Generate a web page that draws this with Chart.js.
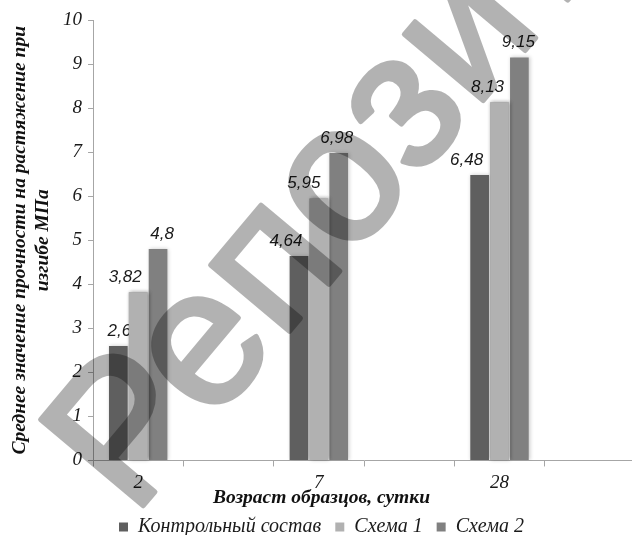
<!DOCTYPE html>
<html>
<head>
<meta charset="utf-8">
<script src="https://cdn.jsdelivr.net/npm/chart.js@4.4.0/dist/chart.umd.min.js"></script>
<style>
  html, body { margin: 0; padding: 0; background: #fff; overflow: hidden; width: 632px; height: 535px; }
  #wrap { position: relative; width: 632px; height: 535px; overflow: hidden; }
  #wrap canvas { position: absolute; left: 0; top: 0; }
</style>
</head>
<body>
<div id="wrap"><canvas id="chart" width="684" height="535"></canvas></div>
<script>
// Sample age (days); blank slots keep the wide spacing between groups
const ages = ['2', '', '7', '', '28', ''];
const seriesNames = ['Контрольный состав', 'Схема 1', 'Схема 2'];
const control = [2.6, null, 4.64, null, 6.48, null];
const scheme1 = [3.82, null, 5.95, null, 8.13, null];
const scheme2 = [4.8, null, 6.98, null, 9.15, null];
const yTickLabels = ['0', '1', '2', '3', '4', '5', '6', '7', '8', '9', '10'];
const seriesColors = ['#5f5f5f', '#b1b1b1', '#808080'];
const yTitle = ['Среднее значение прочности на растяжение при', 'изгибе МПа'];
const xTitle = 'Возраст образцов, сутки';
const stamp = 'Репозиторий';
// sideways nudge (px) of each value label, per series and category
const labelNudge = [
  [1, 0, -13, 0, -13, 0],
  [-13, 0, -15, 0, -12, 0],
  [4, 0, -2, 0, -1, 0]
];

const SERIF = "'Liberation Serif', 'Times New Roman', serif";
const SANS = "'Liberation Sans', Arial, sans-serif";

function withBarShadow(ctx) {
  ctx.shadowColor = 'rgba(0,0,0,0.22)';
  ctx.shadowBlur = 4;
  ctx.shadowOffsetX = 1;
}

// soft shadow around every bar
const barShadow = {
  id: 'barShadow',
  beforeDatasetDraw(chart) {
    chart.ctx.save();
    withBarShadow(chart.ctx);
  },
  afterDatasetDraw(chart) { chart.ctx.restore(); }
};

// value labels above the bars; the light bars are laid over again so they sit above the dark-bar labels
const valueLabels = {
  id: 'valueLabels',
  afterDatasetsDraw(chart) {
    const ctx = chart.ctx;
    const drawLabels = (di) => {
      const meta = chart.getDatasetMeta(di);
      const data = chart.data.datasets[di].data;
      ctx.save();
      ctx.font = "italic 17px " + SANS;
      ctx.fillStyle = '#1a1a1a';
      ctx.textAlign = 'center';
      ctx.textBaseline = 'middle';
      meta.data.forEach((bar, i) => {
        const v = data[i];
        if (v === null || v === undefined) return;
        ctx.fillText(String(v).replace('.', ','), bar.x + labelNudge[di][i], bar.y - 15);
      });
      ctx.restore();
    };
    drawLabels(2);
    drawLabels(0);
    const m1 = chart.getDatasetMeta(1);
    ctx.save();
    withBarShadow(ctx);
    m1.data.forEach((bar, i) => {
      if (chart.data.datasets[1].data[i] !== null) bar.draw(ctx);
    });
    ctx.restore();
    drawLabels(1);
  }
};

// diagonal repository stamp: solid letters on a scratch canvas, laid over the chart translucently
const repoStamp = {
  id: 'repoStamp',
  afterDraw(chart) {
    const scratch = document.createElement('canvas');
    scratch.width = chart.canvas.width;
    scratch.height = chart.canvas.height;
    const s = scratch.getContext('2d');
    s.translate(133, 518);
    s.rotate(-50 * Math.PI / 180);
    s.font = "195px " + SANS;
    s.fillStyle = '#000';
    s.strokeStyle = '#000';
    s.lineWidth = 5;
    s.lineJoin = 'round';
    s.fillText(stamp, 0, 0);
    s.strokeText(stamp, 0, 0);
    const ctx = chart.ctx;
    ctx.save();
    ctx.setTransform(1, 0, 0, 1, 0, 0);
    ctx.globalAlpha = 0.3;
    ctx.drawImage(scratch, 0, 0);
    ctx.restore();
  }
};

new Chart(document.getElementById('chart'), {
  type: 'bar',
  data: {
    labels: ages,
    datasets: [
      { label: seriesNames[0], data: control, backgroundColor: seriesColors[0] },
      { label: seriesNames[1], data: scheme1, backgroundColor: seriesColors[1] },
      { label: seriesNames[2], data: scheme2, backgroundColor: seriesColors[2] }
    ]
  },
  options: {
    responsive: false,
    animation: false,
    layout: { padding: { left: 8, right: 49, top: 20, bottom: -12 } },
    datasets: {
      bar: { categoryPercentage: 0.66, barPercentage: 0.94, borderWidth: 0 }
    },
    scales: {
      x: {
        grid: { drawOnChartArea: false, color: '#a6a6a6', tickLength: 6, offset: true },
        border: { color: '#a6a6a6', width: 1 },
        ticks: {
          font: { family: SERIF, size: 19, style: 'italic' },
          color: '#1a1a1a',
          padding: 5.5,
          maxRotation: 0,
          autoSkip: false
        }
      },
      y: {
        min: 0,
        max: 10,
        grid: { drawOnChartArea: false, color: '#a6a6a6', tickLength: 5 },
        border: { color: '#a6a6a6', width: 1 },
        ticks: {
          stepSize: 1,
          font: { family: SERIF, size: 19, style: 'italic' },
          color: '#1a1a1a',
          padding: 6,
          callback: (v) => yTickLabels[v] ?? ''
        },
        title: {
          display: true,
          text: yTitle,
          font: { family: SERIF, size: 19.5, style: 'italic', weight: 'bold', lineHeight: 1.18 },
          color: '#111',
          padding: { top: 0, bottom: 3 }
        }
      }
    },
    plugins: {
      tooltip: { enabled: false },
      title: {
        display: true,
        text: xTitle,
        position: 'bottom',
        weight: 500,
        font: { family: SERIF, size: 19.5, style: 'italic', weight: 'bold', lineHeight: 1 },
        color: '#111',
        padding: { top: -12, bottom: -4.75 }
      },
      legend: {
        position: 'bottom',
        labels: {
          boxWidth: 9,
          boxHeight: 9,
          padding: 14,
          color: '#1a1a1a',
          font: { family: SERIF, size: 20, style: 'italic' }
        }
      }
    }
  },
  plugins: [barShadow, valueLabels, repoStamp]
});
</script>
</body>
</html>
